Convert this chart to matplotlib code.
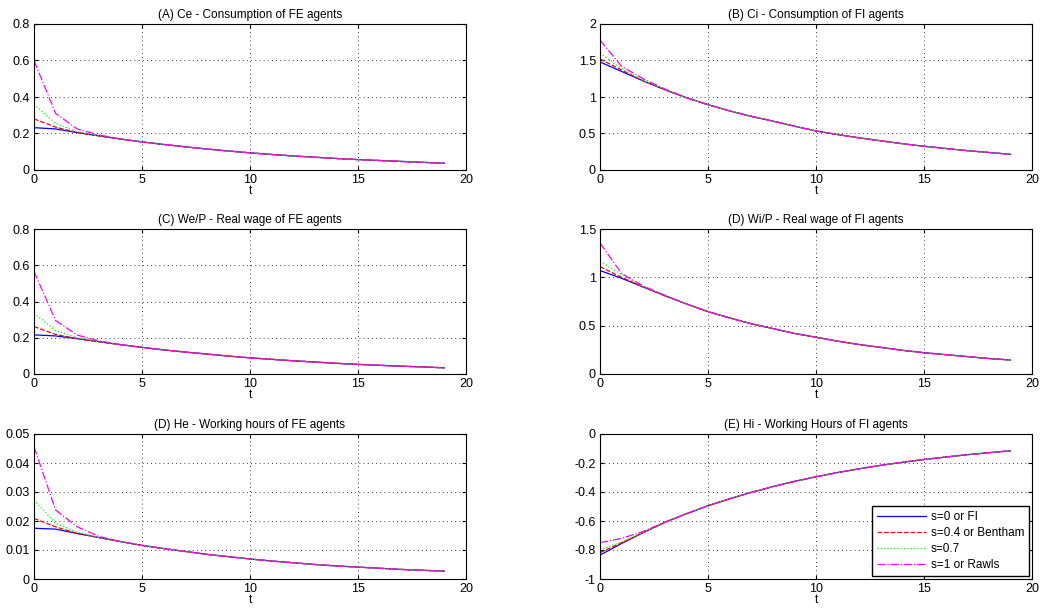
import numpy as np
import matplotlib
matplotlib.use('Agg')
from matplotlib import pyplot as plt
from matplotlib.ticker import FuncFormatter

plt.rcParams['font.family'] = ['Liberation Sans', 'DejaVu Sans']

t = np.arange(20)

# (A) Ce
ce_fi = [0.232, 0.225, 0.205, 0.187, 0.170, 0.154, 0.140, 0.127, 0.115, 0.104,
         0.094, 0.085, 0.077, 0.070, 0.063, 0.057, 0.052, 0.047, 0.042, 0.037]
ce_b = [0.280, 0.235] + ce_fi[2:]
ce_07 = [0.360, 0.255, 0.210] + ce_fi[3:]
ce_r = [0.600, 0.310, 0.225, 0.192] + ce_fi[4:]

# (B) Ci
ci_fi = [1.48, 1.35, 1.22, 1.10, 0.99, 0.895, 0.81, 0.735, 0.67, 0.60,
         0.535, 0.485, 0.44, 0.40, 0.36, 0.325, 0.295, 0.265, 0.24, 0.215]
ci_b = [1.52, 1.37] + ci_fi[2:]
ci_07 = [1.60, 1.39, 1.23] + ci_fi[3:]
ci_r = [1.78, 1.42, 1.25, 1.11] + ci_fi[4:]

# (C) We/P
we_fi = [0.216, 0.210, 0.195, 0.178, 0.162, 0.147, 0.133, 0.121, 0.110, 0.099,
         0.089, 0.081, 0.073, 0.066, 0.059, 0.053, 0.048, 0.043, 0.039, 0.034]
we_b = [0.262, 0.218] + we_fi[2:]
we_07 = [0.335, 0.240, 0.200] + we_fi[3:]
we_r = [0.566, 0.295, 0.215, 0.183] + we_fi[4:]

# (D) Wi/P
wi_fi = [1.07, 0.99, 0.90, 0.81, 0.725, 0.645, 0.58, 0.52, 0.47, 0.42,
         0.38, 0.34, 0.305, 0.275, 0.245, 0.22, 0.20, 0.18, 0.16, 0.145]
wi_b = [1.11, 1.00] + wi_fi[2:]
wi_07 = [1.165, 1.03, 0.905] + wi_fi[3:]
wi_r = [1.355, 1.04, 0.91, 0.815] + wi_fi[4:]

# (E) He
he_fi = [0.0175, 0.0172, 0.0157, 0.0143, 0.0129, 0.0116, 0.0105, 0.0095, 0.0085, 0.0077,
         0.0069, 0.0062, 0.0056, 0.0050, 0.0045, 0.0041, 0.0037, 0.0033, 0.0030, 0.0027]
he_b = [0.0209, 0.0180] + he_fi[2:]
he_07 = [0.0272, 0.0192, 0.0162] + he_fi[3:]
he_r = [0.0456, 0.0238, 0.0180, 0.0147] + he_fi[4:]

# (F) Hi
hi_fi = [-0.835, -0.755, -0.680, -0.610, -0.550, -0.495, -0.447, -0.403, -0.363, -0.327,
         -0.295, -0.266, -0.240, -0.216, -0.195, -0.176, -0.159, -0.143, -0.129, -0.116]
hi_b = [-0.818, -0.750] + hi_fi[2:]
hi_07 = [-0.800, -0.745, -0.678] + hi_fi[3:]
hi_r = [-0.750, -0.720, -0.672, -0.608] + hi_fi[4:]

labels = ['s=0 or FI', 's=0.4 or Bentham', 's=0.7', 's=1 or Rawls']
styles = [('#0000ff', '-'), ('#ff0000', '--'), ('#00ff00', ':'), ('#ff00ff', '-.')]

panels = [
    ('(A) Ce - Consumption of FE agents', [ce_fi, ce_b, ce_07, ce_r], (0, 0.8), np.arange(0, 0.81, 0.2)),
    ('(B) Ci - Consumption of FI agents', [ci_fi, ci_b, ci_07, ci_r], (0, 2), np.arange(0, 2.01, 0.5)),
    ('(C) We/P - Real wage of FE agents', [we_fi, we_b, we_07, we_r], (0, 0.8), np.arange(0, 0.81, 0.2)),
    ('(D) Wi/P - Real wage of FI agents', [wi_fi, wi_b, wi_07, wi_r], (0, 1.5), np.arange(0, 1.51, 0.5)),
    ('(D) He - Working hours of FE agents', [he_fi, he_b, he_07, he_r], (0, 0.05), np.arange(0, 0.051, 0.01)),
    ('(E) Hi - Working Hours of FI agents', [hi_fi, hi_b, hi_07, hi_r], (-1, 0), np.arange(-1, 0.01, 0.2)),
]

fig = plt.figure(figsize=(10.44, 6.15), dpi=100)
lefts = [34 / 1044, 600 / 1044]
rows = [(24, 170), (229, 374), (434, 579)]
fmt = FuncFormatter(lambda v, p: '%g' % (round(v, 6) + 0.0))

for i, (title, series, ylim, yt) in enumerate(panels):
    top, bot = rows[i // 2]
    ax = fig.add_axes([lefts[i % 2], 1 - bot / 615, 432 / 1044, (bot - top) / 615])
    for s, (c, ls), lab in zip(series, styles, labels):
        ax.plot(t, s, color=c, linestyle=ls, linewidth=0.9, label=lab)
    ax.set_xlim(0, 20)
    ax.set_ylim(*ylim)
    ax.set_xticks([0, 5, 10, 15, 20])
    ax.set_yticks(yt)
    ax.yaxis.set_major_formatter(fmt)
    ax.grid(True, color='k', linestyle=(0, (1, 4)), linewidth=0.6)
    ax.tick_params(direction='in', length=3, labelsize=9, pad=3, top=True, right=True)
    for sp in ax.spines.values():
        sp.set_linewidth(0.8)
    ax.set_title(title, fontsize=8.5, pad=4)
    ax.set_xlabel('t', fontsize=8.5, labelpad=-1)
    if i == 5:
        ax.legend(loc='lower right', fontsize=8.5, frameon=True, fancybox=False,
                  edgecolor='k', framealpha=1, borderpad=0.4, handlelength=4.2,
                  labelspacing=0.35, borderaxespad=0.25, handletextpad=0.4)

fig.savefig('out.png', dpi=100)
